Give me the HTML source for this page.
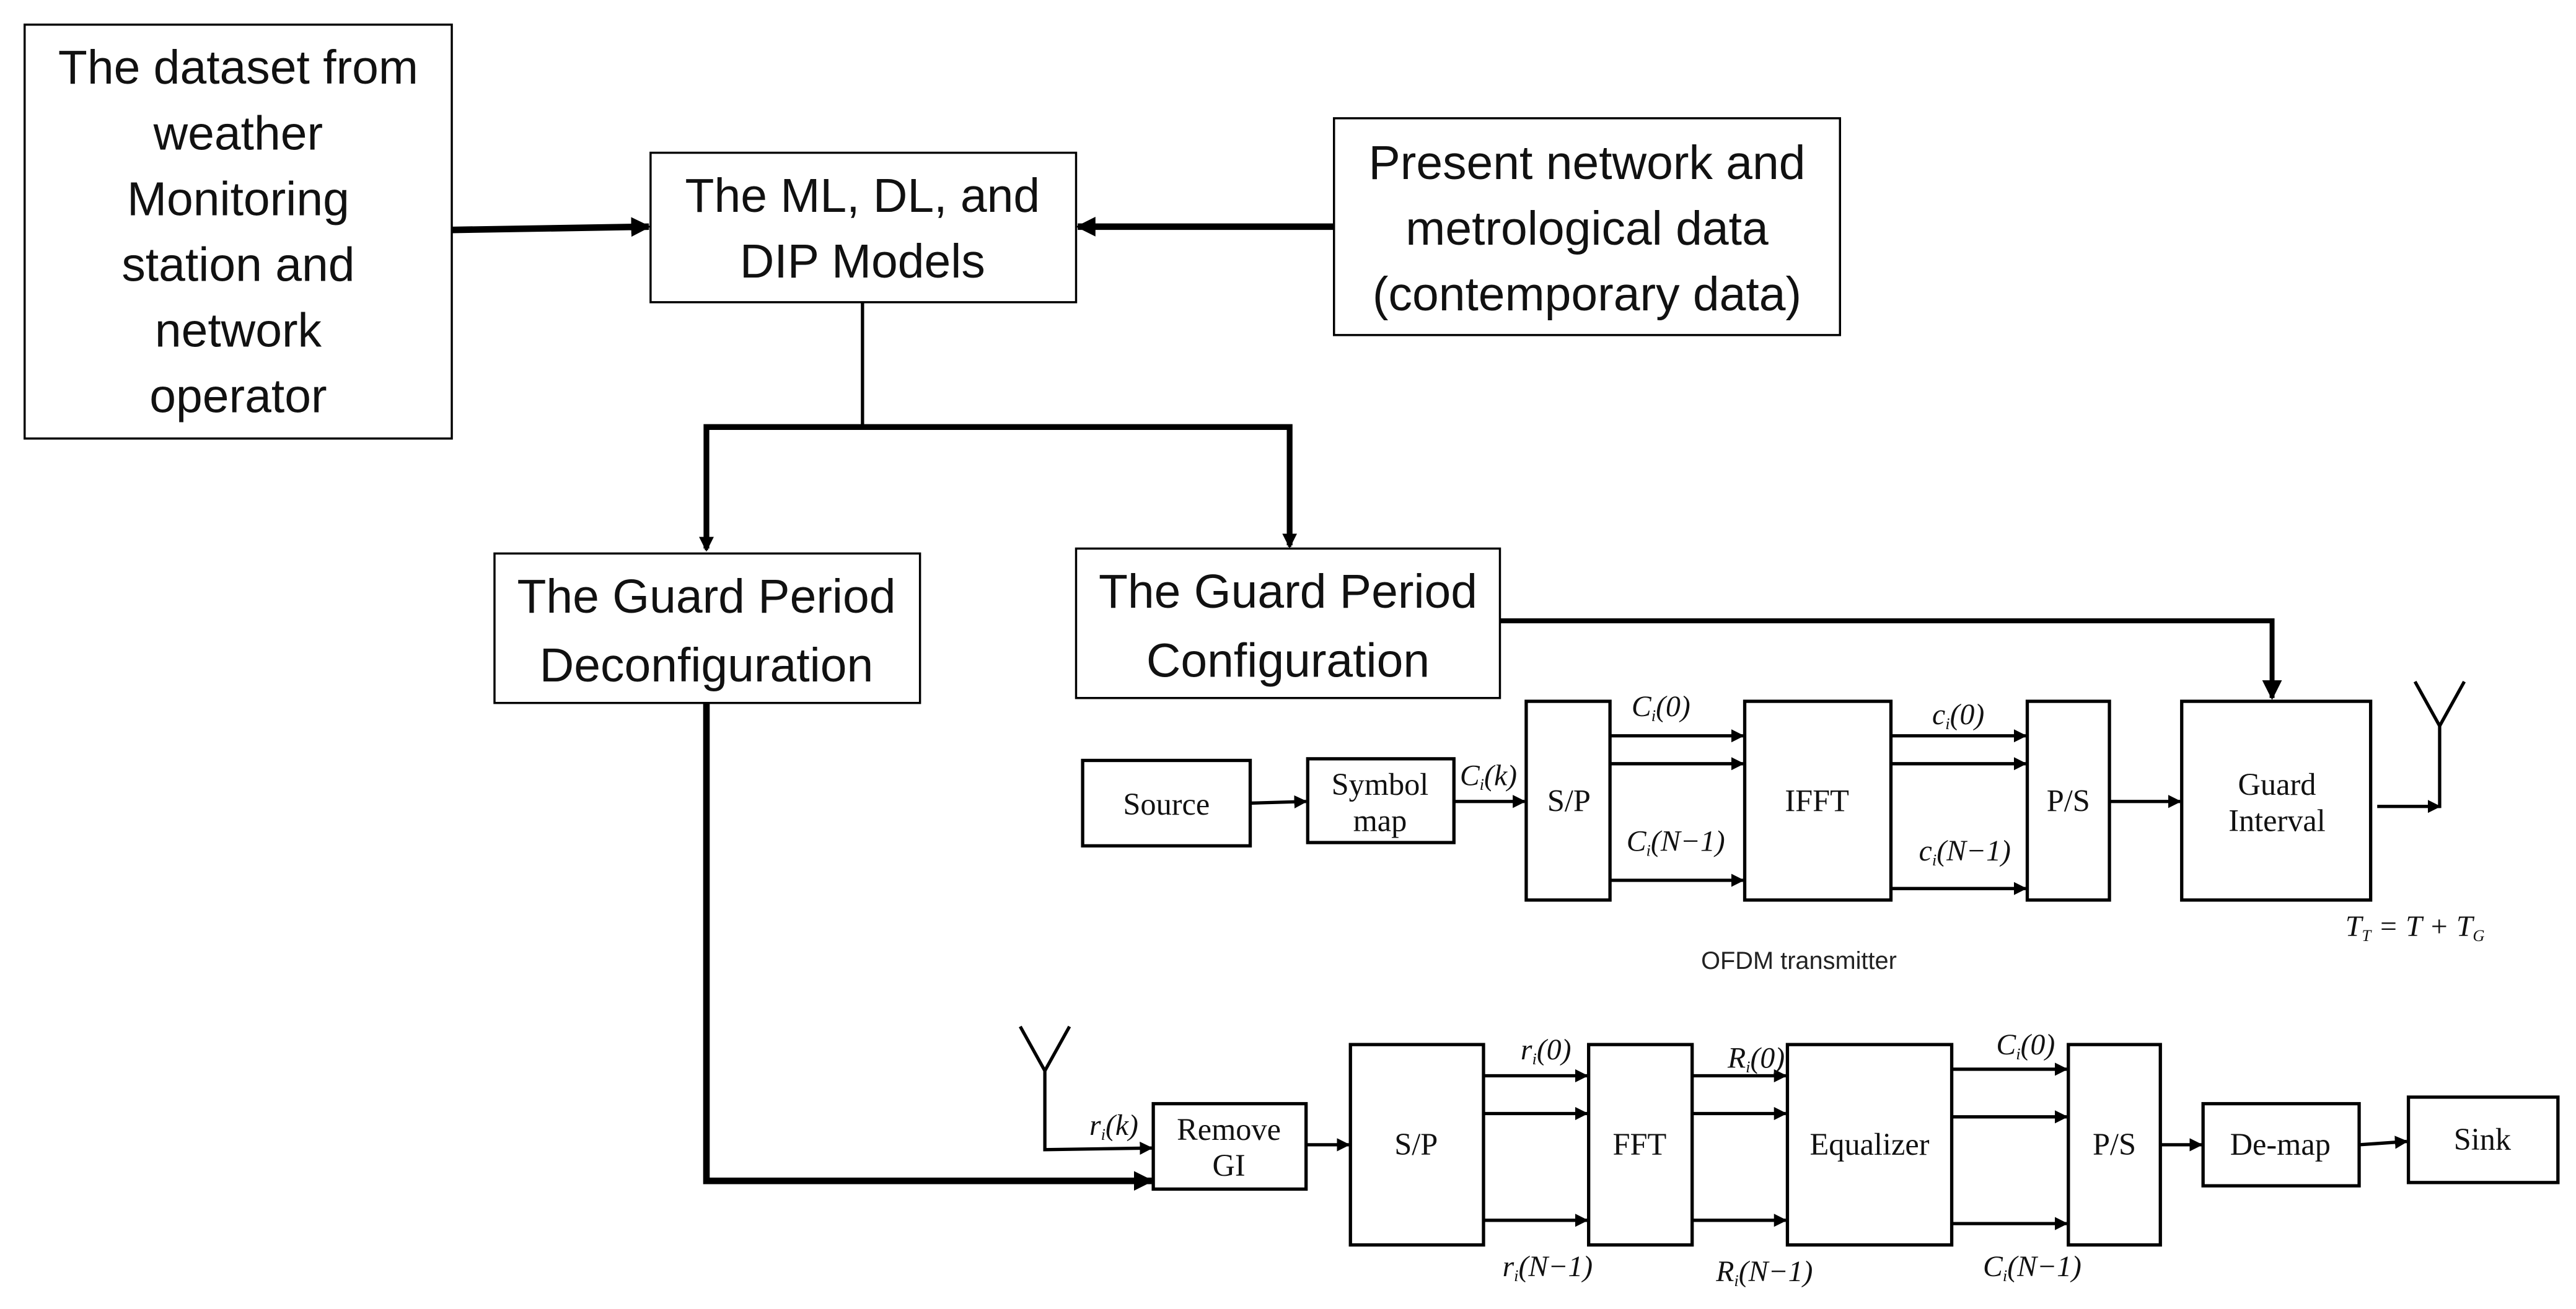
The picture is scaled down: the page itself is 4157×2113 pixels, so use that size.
<!DOCTYPE html>
<html><head><meta charset="utf-8"><style>
html,body{margin:0;padding:0;background:#fff}
svg{display:block}
.s{font-family:"Liberation Sans",sans-serif;font-size:29px;fill:#111;text-anchor:middle}
.t{font-family:"Liberation Serif",serif;font-size:19px;fill:#111;text-anchor:middle}
.i{font-family:"Liberation Serif",serif;font-size:18px;fill:#111;font-style:italic;text-anchor:middle}
</style></head><body>
<svg width="4157" height="2113" viewBox="0 0 1568 797" xmlns="http://www.w3.org/2000/svg">
<defs>
<marker id="a" viewBox="0 0 10 10" refX="9" refY="5" markerWidth="8" markerHeight="8" orient="auto" markerUnits="userSpaceOnUse"><path d="M0,0L10,5L0,10z" fill="#000"/></marker>
<marker id="b" viewBox="0 0 10 10" refX="9" refY="5" markerWidth="9" markerHeight="9" orient="auto" markerUnits="userSpaceOnUse"><path d="M0,0L10,5L0,10z" fill="#000"/></marker>
<marker id="c" viewBox="0 0 10 10" refX="9" refY="5" markerWidth="12" markerHeight="12" orient="auto" markerUnits="userSpaceOnUse"><path d="M0,0L10,5L0,10z" fill="#000"/></marker>
</defs>
<g fill="none" stroke="#000" stroke-width="1.3">
<rect x="15" y="15" width="260" height="252"/>
<rect x="396" y="93" width="259" height="91"/>
<rect x="812" y="72" width="308" height="132"/>
<rect x="301" y="337" width="259" height="91"/>
<rect x="655" y="334" width="258" height="91"/>
</g>
<g fill="none" stroke="#000" stroke-width="2">
<rect x="659" y="463" width="102" height="52"/>
<rect x="796" y="462" width="89" height="51"/>
<rect x="929" y="427" width="51" height="121"/>
<rect x="1062" y="427" width="89" height="121"/>
<rect x="1234" y="427" width="50" height="121"/>
<rect x="1328" y="427" width="115" height="121"/>
<rect x="702" y="672" width="93" height="52"/>
<rect x="822" y="636" width="81" height="122"/>
<rect x="967" y="636" width="63" height="122"/>
<rect x="1088" y="636" width="100" height="122"/>
<rect x="1259" y="636" width="56" height="122"/>
<rect x="1341" y="672" width="95" height="50"/>
<rect x="1466" y="668" width="91" height="52"/>
</g>
<g stroke="#000" fill="none">
<line x1="275" y1="140" x2="395" y2="138" stroke-width="4" marker-end="url(#c)"/>
<line x1="812" y1="138" x2="656" y2="138" stroke-width="4" marker-end="url(#c)"/>
<line x1="525" y1="184" x2="525" y2="260" stroke-width="2"/>
<polyline points="430,334 430,260 785,260 785,332" stroke-width="3.5"/>
<line x1="430" y1="300" x2="430" y2="335" stroke-width="2" marker-end="url(#b)"/>
<line x1="785" y1="300" x2="785" y2="333" stroke-width="2" marker-end="url(#b)"/>
<polyline points="913,378 1383,378 1383,425" stroke-width="3" marker-end="url(#c)"/>
<polyline points="430,428 430,719 701,719" stroke-width="4" marker-end="url(#c)"/>
</g>
<g stroke="#000" stroke-width="2" fill="none">
<line x1="761" y1="489" x2="795" y2="488" marker-end="url(#a)"/>
<line x1="885" y1="488" x2="928" y2="488" marker-end="url(#a)"/>
<line x1="980" y1="448" x2="1061" y2="448" marker-end="url(#a)"/>
<line x1="980" y1="465" x2="1061" y2="465" marker-end="url(#a)"/>
<line x1="980" y1="536" x2="1061" y2="536" marker-end="url(#a)"/>
<line x1="1151" y1="448" x2="1233" y2="448" marker-end="url(#a)"/>
<line x1="1151" y1="465" x2="1233" y2="465" marker-end="url(#a)"/>
<line x1="1151" y1="541" x2="1233" y2="541" marker-end="url(#a)"/>
<line x1="1284" y1="488" x2="1327" y2="488" marker-end="url(#a)"/>
<line x1="1447" y1="491" x2="1485" y2="491" marker-end="url(#a)"/>
<polyline points="1470,415 1485,442 1500,415"/>
<line x1="1485" y1="442" x2="1485" y2="492"/>
<polyline points="621,625 636,652 651,625"/>
<polyline points="636,652 636,700 701,699" marker-end="url(#a)"/>
<line x1="795" y1="697" x2="821" y2="697" marker-end="url(#a)"/>
<line x1="903" y1="655" x2="966" y2="655" marker-end="url(#a)"/>
<line x1="903" y1="678" x2="966" y2="678" marker-end="url(#a)"/>
<line x1="903" y1="743" x2="966" y2="743" marker-end="url(#a)"/>
<line x1="1030" y1="655" x2="1087" y2="655" marker-end="url(#a)"/>
<line x1="1030" y1="678" x2="1087" y2="678" marker-end="url(#a)"/>
<line x1="1030" y1="743" x2="1087" y2="743" marker-end="url(#a)"/>
<line x1="1188" y1="651" x2="1258" y2="651" marker-end="url(#a)"/>
<line x1="1188" y1="680" x2="1258" y2="680" marker-end="url(#a)"/>
<line x1="1188" y1="745" x2="1258" y2="745" marker-end="url(#a)"/>
<line x1="1315" y1="697" x2="1340" y2="697" marker-end="url(#a)"/>
<line x1="1436" y1="697" x2="1465" y2="695" marker-end="url(#a)"/>
</g>
<text class="s" x="145" y="51">The dataset from</text>
<text class="s" x="145" y="91">weather</text>
<text class="s" x="145" y="131">Monitoring</text>
<text class="s" x="145" y="171">station and</text>
<text class="s" x="145" y="211">network</text>
<text class="s" x="145" y="251">operator</text>
<text class="s" x="525" y="129">The ML, DL, and</text>
<text class="s" x="525" y="169">DIP Models</text>
<text class="s" x="966" y="109">Present network and</text>
<text class="s" x="966" y="149">metrological data</text>
<text class="s" x="966" y="189">(contemporary data)</text>
<text class="s" x="430" y="373">The Guard Period</text>
<text class="s" x="430" y="415">Deconfiguration</text>
<text class="s" x="784" y="370">The Guard Period</text>
<text class="s" x="784" y="412">Configuration</text>
<text class="t" x="710" y="496">Source</text>
<text class="t" x="840" y="484">Symbol</text>
<text class="t" x="840" y="506">map</text>
<text class="t" x="955" y="494">S/P</text>
<text class="t" x="1106" y="494">IFFT</text>
<text class="t" x="1259" y="494">P/S</text>
<text class="t" x="1386" y="484">Guard</text>
<text class="t" x="1386" y="506">Interval</text>
<text class="t" x="748" y="694">Remove</text>
<text class="t" x="748" y="716">GI</text>
<text class="t" x="862" y="703">S/P</text>
<text class="t" x="998" y="703">FFT</text>
<text class="t" x="1138" y="703">Equalizer</text>
<text class="t" x="1287" y="703">P/S</text>
<text class="t" x="1388" y="703">De-map</text>
<text class="t" x="1511" y="700">Sink</text>
<text class="i" x="906" y="478">C<tspan font-size="10" dy="3">i</tspan><tspan dy="-3">(k)</tspan></text>
<text class="i" x="1011" y="436">C<tspan font-size="10" dy="3">i</tspan><tspan dy="-3">(0)</tspan></text>
<text class="i" x="1020" y="518">C<tspan font-size="10" dy="3">i</tspan><tspan dy="-3">(N−1)</tspan></text>
<text class="i" x="1192" y="441">c<tspan font-size="10" dy="3">i</tspan><tspan dy="-3">(0)</tspan></text>
<text class="i" x="1196" y="524">c<tspan font-size="10" dy="3">i</tspan><tspan dy="-3">(N−1)</tspan></text>
<text class="i" x="1470" y="570">T<tspan font-size="10" dy="3">T</tspan><tspan dy="-3"> = T + T</tspan><tspan font-size="10" dy="3">G</tspan></text>
<text x="1095" y="590" style="font-family:'Liberation Sans',sans-serif;font-size:15px;fill:#222;text-anchor:middle">OFDM transmitter</text>
<text class="i" x="678" y="691">r<tspan font-size="10" dy="3">i</tspan><tspan dy="-3">(k)</tspan></text>
<text class="i" x="941" y="645">r<tspan font-size="10" dy="3">i</tspan><tspan dy="-3">(0)</tspan></text>
<text class="i" x="1069" y="650">R<tspan font-size="10" dy="3">i</tspan><tspan dy="-3">(0)</tspan></text>
<text class="i" x="1233" y="642">C<tspan font-size="10" dy="3">i</tspan><tspan dy="-3">(0)</tspan></text>
<text class="i" x="942" y="777">r<tspan font-size="10" dy="3">i</tspan><tspan dy="-3">(N−1)</tspan></text>
<text class="i" x="1074" y="780">R<tspan font-size="10" dy="3">i</tspan><tspan dy="-3">(N−1)</tspan></text>
<text class="i" x="1237" y="777">C<tspan font-size="10" dy="3">i</tspan><tspan dy="-3">(N−1)</tspan></text>
</svg>
</body></html>
